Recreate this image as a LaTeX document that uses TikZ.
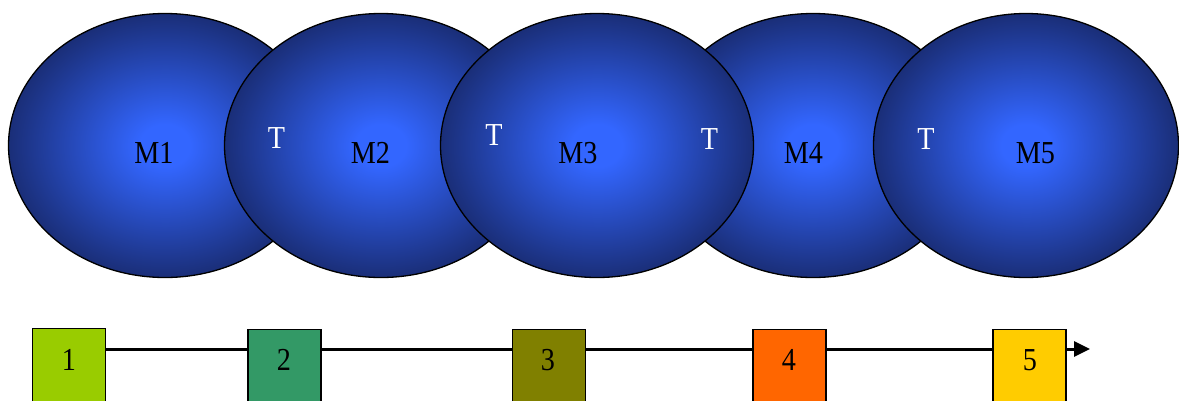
\documentclass[tikz,border=0pt]{standalone}
\usepackage{fontspec}
\setmainfont{Liberation Serif}[FakeStretch=0.88]
\usetikzlibrary{shapes.geometric,arrows.meta,backgrounds}
\definecolor{ballin}{HTML}{3366FF}
\definecolor{ballout}{RGB}{26,46,120}
\definecolor{cone}{HTML}{99CC00}
\definecolor{ctwo}{HTML}{339966}
\definecolor{cthree}{HTML}{808000}
\definecolor{cfour}{HTML}{FF6600}
\definecolor{cfive}{HTML}{FFCC00}
\pgfdeclareradialshading{mball}{\pgfpoint{0bp}{0bp}}{color(0bp)=(ballin); color(4bp)=(ballin); color(25bp)=(ballout); color(50bp)=(ballout)}
\begin{document}
\begin{tikzpicture}[x=1pt,y=-1pt,
  mball/.style={ellipse, draw=black, line width=1.3pt, shade, shading=mball,
    minimum width=313pt, minimum height=264pt, inner sep=0pt},
  mlab/.style={anchor=base, font=\fontsize{32}{34}\selectfont, text=black, inner sep=0pt},
  tlab/.style={mlab, text=white},
  stepbox/.style={draw=black, line width=1.3pt, minimum width=73pt, minimum height=90pt, anchor=north, inner sep=0pt},
  numlab/.style={anchor=base, font=\fontsize{32}{34}\selectfont, text=black, inner sep=0pt},
  flow/.style={line width=3pt, -{Triangle[length=16pt,width=15pt]}}
]
\useasboundingbox (0,0) rectangle (1179,400);
% ellipses (drawing order gives the overlaps)
\node[mball] (e1) at (165,145.5) {};
\node[mball] (e2) at (381,145.5) {};
\node[mball] (e4) at (813,145.5) {};
\node[mball] (e3) at (597,145.5) {};
\node[mball, minimum width=305pt] (e5) at (1026,145.5) {};
% labels
\node[mlab] (l1) at (154,163) {M1};
\node[mlab] (l2) at (370.5,163) {M2};
\node[mlab] (l3) at (578,163) {M3};
\node[mlab] (l4) at (803.5,163) {M4};
\node[mlab] (l5) at (1035.5,163) {M5};
\node[tlab] (t1) at (276.5,148) {T};
\node[tlab] (t2) at (494,145) {T};
\node[tlab] (t3) at (709.5,149) {T};
\node[tlab] (t4) at (926,149) {T};
% boxes
\node[stepbox, fill=cone] (b1) at (69,328) {};
\node[stepbox, fill=ctwo] (b2) at (284.5,329) {};
\node[stepbox, fill=cthree] (b3) at (549,329) {};
\node[stepbox, fill=cfour] (b4) at (789.5,329) {};
\node[stepbox, fill=cfive] (b5) at (1029.5,329) {};
\node[numlab] (n1) at (69,370) {1};
\node[numlab] (n2) at (284,370) {2};
\node[numlab] (n3) at (548,370) {3};
\node[numlab] (n4) at (789,370) {4};
\node[numlab] (n5) at (1030,370) {5};
\coordinate (tip) at (1090,349);
\begin{scope}[on background layer]
\draw[flow] (b1.center |- tip) -- (tip);
\end{scope}
\end{tikzpicture}
\end{document}
